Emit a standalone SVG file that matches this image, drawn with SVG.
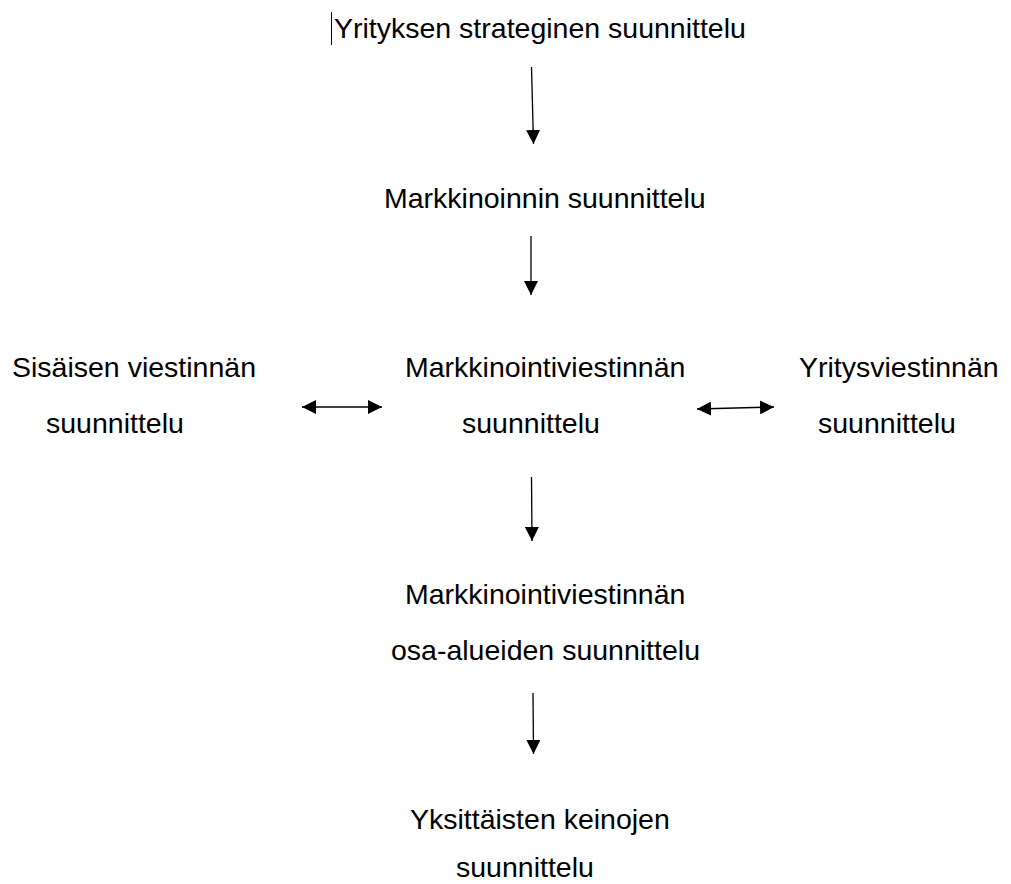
<svg xmlns="http://www.w3.org/2000/svg" width="1011" height="884" viewBox="0 0 1011 884">
<style>
text{font-family:"Liberation Sans",Arial,sans-serif;font-size:28.5px;fill:#000}
.c{stroke:#000;stroke-width:1.3;fill:none}
</style>
<defs>
<marker id="ah" viewBox="0 0 14 14" refX="14" refY="7" markerWidth="14" markerHeight="14" markerUnits="userSpaceOnUse" orient="auto-start-reverse">
<path d="M0,0 L14,7 L0,14 z" fill="#000"/>
</marker>
</defs>
<rect width="1011" height="884" fill="#fff"/>
<line x1="331.5" y1="12" x2="331.5" y2="45" stroke="#000" stroke-width="1"/>
<g id="n-strategia"><text x="334" y="38">Yrityksen strateginen suunnittelu</text></g>
<g id="n-markkinointi"><text x="384" y="208">Markkinoinnin suunnittelu</text></g>
<g id="n-sisainen"><text x="12" y="377">Sisäisen viestinnän</text><text x="46" y="433">suunnittelu</text></g>
<g id="n-mviestinta"><text x="405" y="377">Markkinointiviestinnän</text><text x="462" y="433">suunnittelu</text></g>
<g id="n-yritysviestinta"><text x="799" y="377">Yritysviestinnän</text><text x="818" y="433">suunnittelu</text></g>
<g id="n-osa-alueet"><text x="405" y="604">Markkinointiviestinnän</text><text x="391" y="660">osa-alueiden suunnittelu</text></g>
<g id="n-keinot"><text x="410" y="829">Yksittäisten keinojen</text><text x="456" y="877">suunnittelu</text></g>
<g id="connectors">
<line class="c" x1="531.5" y1="67" x2="533.5" y2="144" marker-end="url(#ah)"/>
<line class="c" x1="531" y1="236" x2="531" y2="295" marker-end="url(#ah)"/>
<line class="c" x1="531.5" y1="477" x2="532" y2="541" marker-end="url(#ah)"/>
<line class="c" x1="533" y1="693" x2="533.5" y2="754" marker-end="url(#ah)"/>
<line class="c" x1="302" y1="407" x2="382" y2="407" marker-start="url(#ah)" marker-end="url(#ah)"/>
<line class="c" x1="697" y1="409" x2="774" y2="407" marker-start="url(#ah)" marker-end="url(#ah)"/>
</g>
</svg>
